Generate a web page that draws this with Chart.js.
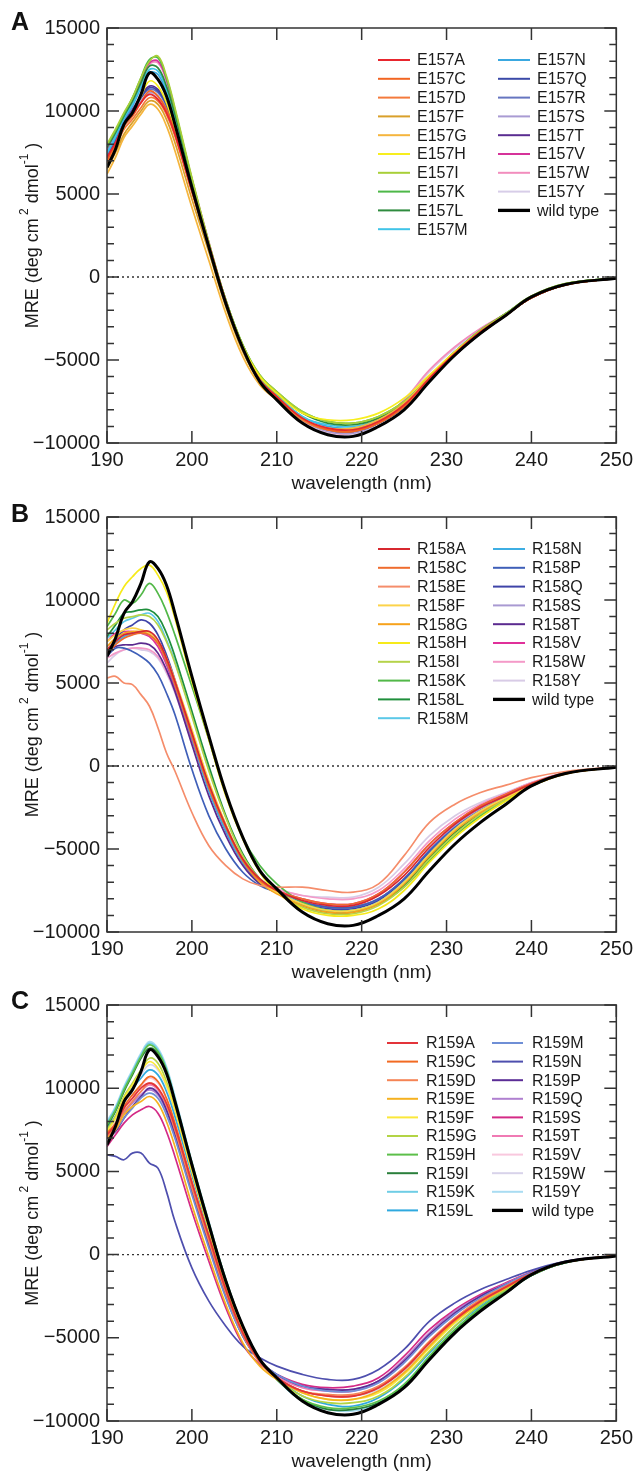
<!DOCTYPE html>
<html>
<head>
<meta charset="utf-8">
<script src="https://cdn.jsdelivr.net/npm/chart.js@4.4.1/dist/chart.umd.min.js"></script>
<style>
    body { margin: 0; background: #fff; }
    canvas { position: absolute; left: 0; }
</style>
</head>
<body>
<canvas id="chartA" width="638" height="492" style="top:0px"></canvas>
<canvas id="chartB" width="638" height="492" style="top:492px"></canvas>
<canvas id="chartC" width="638" height="492" style="top:984px"></canvas>
<script>
// --- Data (MRE, deg cm2 dmol-1) ---
const wavelengths = [190,191,192,193,194,195,196,197,198,200,202,204,206,208,210,213,216,219,222,225,228,231,234,237,240,244,250];
const xTicks = [190, 200, 210, 220, 230, 240, 250];
const yTicks = [-10000, -5000, 0, 5000, 10000, 15000];

const wildType = [6600,7700,9200,9900,11000,12300,11900,10900,9200,5400,1800,-1600,-4300,-6300,-7400,-8800,-9500,-9600,-9000,-8000,-6300,-4700,-3400,-2300,-1200,-450,-80];

// Panel A: E157 mutants
const e157Labels = ['E157A','E157C','E157D','E157F','E157G','E157H','E157I','E157K','E157L','E157M','E157N','E157Q','E157R','E157S','E157T','E157V','E157W','E157Y'];
const e157Colors = ['#e8262e','#f26522','#f47a3c','#d9a02a','#f5b53d','#f7ee1e','#a8cf38','#4db848','#2e8b3e','#40c4e8','#3aa8e0','#3b4aa8','#6675c0','#a99bd3','#5a2d91','#d6339a','#f28dbd','#d7cde8'];
const e157Series = [
    [7200,8100,9200,9800,10500,11000,10700,9900,8600,5200,1900,-1500,-4300,-6200,-7200,-8500,-9100,-9200,-8700,-7700,-6100,-4600,-3300,-2300,-1250,-480,-70],
    [7000,8000,9100,9700,10500,11200,10900,10100,8700,5200,1900,-1500,-4300,-6200,-7200,-8500,-9200,-9300,-8800,-7800,-6100,-4600,-3400,-2300,-1250,-480,-70],
    [6900,7800,8900,9500,10200,10800,10600,9800,8500,5100,1800,-1600,-4300,-6200,-7200,-8600,-9200,-9300,-8800,-7800,-6200,-4700,-3400,-2300,-1250,-480,-70],
    [6500,7500,8600,9300,10000,10600,10400,9500,8100,4700,1500,-1800,-4500,-6300,-7300,-8600,-9200,-9200,-8700,-7700,-6100,-4600,-3300,-2300,-1250,-480,-70],
    [6200,7200,8400,9100,9800,10400,10100,9100,7600,4200,1000,-2200,-4800,-6500,-7400,-8600,-9100,-9100,-8600,-7600,-6000,-4600,-3300,-2300,-1250,-480,-70],
    [6800,7900,9200,9900,10900,11800,11500,10500,8900,5300,1800,-1500,-4200,-6000,-7000,-8200,-8600,-8600,-8200,-7300,-5900,-4500,-3300,-2300,-1250,-480,-70],
    [8000,8900,9900,10800,12000,13000,13300,12100,10200,6000,2100,-1400,-4100,-5900,-6900,-8100,-8700,-8800,-8400,-7500,-6000,-4500,-3200,-2200,-1150,-400,-50],
    [7900,8800,9800,10800,12000,13100,13200,12000,10100,5900,2000,-1400,-4100,-5900,-6900,-8100,-8700,-8800,-8400,-7500,-6000,-4500,-3200,-2200,-1150,-400,-50],
    [7800,8700,9700,10600,11700,12700,12600,11500,9800,5800,2000,-1400,-4100,-6000,-7000,-8200,-8800,-8900,-8500,-7600,-6000,-4600,-3300,-2200,-1200,-420,-60],
    [7500,8500,9600,10400,11500,12500,12400,11300,9600,5700,2000,-1500,-4200,-6100,-7100,-8400,-8900,-9000,-8600,-7600,-6000,-4500,-3300,-2200,-1200,-450,-60],
    [7400,8400,9500,10300,11400,12300,12200,11100,9500,5600,1900,-1500,-4200,-6100,-7100,-8400,-9000,-9100,-8700,-7700,-6100,-4600,-3300,-2300,-1200,-450,-60],
    [7200,8200,9300,10000,10800,11400,11200,10400,8900,5400,1900,-1500,-4300,-6200,-7200,-8500,-9200,-9300,-8800,-7800,-6200,-4700,-3400,-2300,-1250,-470,-70],
    [7300,8200,9300,10000,10800,11300,11100,10300,8900,5400,1900,-1500,-4300,-6200,-7200,-8500,-9200,-9300,-8800,-7700,-6100,-4600,-3300,-2300,-1250,-470,-70],
    [7100,8000,9100,9800,10600,11100,10900,10100,8700,5300,1900,-1500,-4300,-6200,-7200,-8600,-9300,-9400,-8800,-7700,-6000,-4500,-3300,-2300,-1250,-470,-70],
    [7200,8200,9300,10100,10900,11500,11300,10500,9000,5400,1900,-1500,-4300,-6200,-7200,-8500,-9200,-9300,-8800,-7800,-6200,-4700,-3400,-2300,-1250,-470,-70],
    [7600,8600,9700,10600,11900,12900,13000,11900,10000,5900,2100,-1400,-4200,-6100,-7100,-8500,-9200,-9300,-8800,-7700,-6000,-4500,-3200,-2200,-1200,-450,-60],
    [7000,8000,9300,10300,11700,12800,12900,11800,9900,5800,2000,-1500,-4300,-6200,-7200,-8600,-9300,-9400,-8700,-7400,-5600,-4200,-3100,-2200,-1200,-450,-60],
    [6900,7900,9000,9700,10500,11000,10800,10000,8600,5200,1800,-1600,-4400,-6300,-7300,-8700,-9400,-9500,-8800,-7500,-5700,-4300,-3200,-2200,-1200,-450,-60]
];

// Panel B: R158 mutants
const r158Labels = ['R158A','R158C','R158E','R158F','R158G','R158H','R158I','R158K','R158L','R158M','R158N','R158P','R158Q','R158S','R158T','R158V','R158W','R158Y'];
const r158Colors = ['#d7282f','#ef6c2e','#f58d6b','#fcd34a','#f7a21b','#f6ea1a','#b5d34a','#52b848','#1f8f3c','#5bc8e8','#3eaee3','#3f5fb8','#3f44a8','#a99ad2','#5b2a8f','#e0309a','#f49ac8','#d8cbe6'];
const r158Series = [
    [7000,7500,7900,8000,8100,8100,7600,6500,5100,2000,-1100,-3600,-5600,-6800,-7500,-8100,-8400,-8400,-7800,-6600,-4900,-3500,-2500,-1800,-1100,-450,-60],
    [6800,7300,7700,7900,8000,7900,7400,6300,4900,1800,-1300,-3700,-5700,-6900,-7500,-8000,-8300,-8300,-7700,-6400,-4700,-3400,-2400,-1700,-1050,-430,-60],
    [5300,5400,5000,4900,4300,3600,2300,800,-300,-2800,-4800,-6000,-6800,-7200,-7300,-7300,-7500,-7600,-7100,-5400,-3400,-2300,-1600,-1150,-700,-330,-60],
    [7500,7900,8200,8300,8200,8000,7500,6500,5200,2200,-900,-3500,-5600,-6900,-7600,-8300,-8700,-8700,-8200,-7000,-5300,-3800,-2700,-1900,-1150,-450,-60],
    [7200,7700,8000,8100,8100,7900,7400,6400,5100,2100,-1000,-3600,-5700,-7000,-7700,-8400,-8800,-8800,-8300,-7100,-5400,-3900,-2800,-1900,-1200,-470,-60],
    [8600,9800,10800,11400,11900,12100,11500,10500,8900,5100,1600,-1800,-4400,-6400,-7600,-8600,-9000,-9000,-8600,-7500,-5800,-4300,-3100,-2100,-1200,-470,-60],
    [8200,8600,8900,9000,9100,9000,8500,7500,6200,3000,-300,-3100,-5400,-6800,-7600,-8500,-8900,-8900,-8400,-7300,-5600,-4100,-2900,-2000,-1200,-460,-60],
    [8400,9200,10000,9800,10300,11000,10400,9300,7900,4800,1600,-1700,-4300,-6000,-7100,-8200,-8700,-8700,-8300,-7300,-5700,-4200,-3000,-2100,-1200,-460,-60],
    [7800,8500,9200,9300,9400,9400,9000,8000,6600,3300,0,-3000,-5300,-6800,-7500,-8400,-8800,-8800,-8300,-7200,-5500,-4000,-2900,-2000,-1200,-460,-60],
    [7700,8200,8700,8900,9100,9200,8700,7600,6300,3100,-200,-3100,-5400,-6800,-7500,-8300,-8700,-8700,-8200,-7000,-5300,-3900,-2800,-1900,-1150,-450,-60],
    [7000,7400,7800,8000,8100,8000,7500,6300,4900,1700,-1500,-3900,-5800,-6900,-7500,-8300,-8700,-8700,-8200,-7000,-5300,-3800,-2700,-1900,-1150,-450,-60],
    [6600,7100,7100,6900,6600,6200,5500,4400,3100,-200,-3000,-5000,-6400,-7200,-7600,-8200,-8500,-8500,-8000,-6800,-5100,-3700,-2700,-1900,-1150,-450,-60],
    [6700,7600,8200,8500,8800,8600,7900,6700,5200,1800,-1400,-3900,-5800,-7000,-7600,-8300,-8600,-8600,-8100,-6900,-5200,-3800,-2700,-1900,-1150,-450,-60],
    [7200,7600,7900,8000,8000,7900,7400,6400,5100,2000,-1100,-3700,-5700,-6900,-7500,-8200,-8500,-8500,-8000,-6800,-5100,-3600,-2600,-1800,-1100,-440,-60],
    [6900,7200,7300,7300,7400,7300,6800,5800,4500,1300,-1800,-4200,-6000,-7100,-7600,-8200,-8500,-8500,-8000,-6800,-5100,-3600,-2600,-1800,-1100,-440,-60],
    [7500,8000,8100,8100,8000,7800,7200,6100,4700,1600,-1400,-3900,-5800,-7000,-7500,-8000,-8300,-8300,-7700,-6400,-4700,-3400,-2400,-1700,-1050,-420,-60],
    [6500,6800,7000,7100,7100,7000,6600,5700,4500,1500,-1500,-3900,-5800,-6900,-7400,-7800,-8000,-8000,-7500,-6200,-4500,-3200,-2300,-1650,-1000,-420,-60],
    [6200,6700,7000,7100,7000,6900,6500,5600,4400,1400,-1600,-4000,-5900,-7000,-7400,-7800,-7900,-7900,-7300,-5900,-4200,-3000,-2200,-1600,-1000,-400,-60]
];

// Panel C: R159 mutants
const r159Labels = ['R159A','R159C','R159D','R159E','R159F','R159G','R159H','R159I','R159K','R159L','R159M','R159N','R159P','R159Q','R159S','R159T','R159V','R159W','R159Y'];
const r159Colors = ['#e3343a','#f26a22','#f58455','#f5b120','#fbe83a','#b3d445','#5cbf4a','#2a7f3b','#6fcde5','#2fa9df','#6f8fd6','#4e4fae','#5b2d96','#b080d0','#d42a86','#f07ab4','#f9c8de','#d8d3ea','#a9dcf2'];
const r159Series = [
    [7200,7800,8800,9400,10000,10300,10000,9100,7700,4300,1100,-2100,-4700,-6400,-7400,-8200,-8500,-8500,-8000,-6900,-5300,-3900,-2800,-1950,-1150,-460,-60],
    [7300,7900,8900,9600,10200,10700,10400,9400,7900,4400,1100,-2100,-4700,-6400,-7400,-8200,-8500,-8500,-8000,-6900,-5300,-3900,-2800,-1950,-1150,-460,-60],
    [7100,7700,8600,9200,9800,10300,10000,9000,7500,4000,800,-2300,-4800,-6500,-7400,-8200,-8400,-8400,-7900,-6800,-5200,-3800,-2700,-1900,-1150,-460,-60],
    [7000,7500,8400,8900,9200,9500,9100,8000,6500,3000,-100,-3000,-5300,-6700,-7500,-8300,-8700,-8700,-8200,-7100,-5500,-4000,-2900,-2000,-1200,-460,-60],
    [7400,8200,9400,10200,11000,11600,11200,10200,8700,5000,1500,-1900,-4600,-6400,-7400,-8300,-8700,-8700,-8300,-7200,-5600,-4100,-2900,-2000,-1200,-460,-60],
    [7500,8300,9500,10300,11100,11800,11500,10400,8800,5100,1600,-1800,-4500,-6400,-7500,-8500,-8900,-8900,-8500,-7400,-5800,-4300,-3000,-2100,-1200,-460,-60],
    [7800,8700,9900,10900,11900,12600,12200,11100,9300,5500,1900,-1500,-4300,-6300,-7500,-8700,-9200,-9200,-8800,-7800,-6100,-4500,-3200,-2200,-1250,-480,-60],
    [7700,8600,9800,10800,11800,12400,12100,11000,9200,5400,1800,-1600,-4400,-6300,-7500,-8700,-9300,-9300,-8900,-7900,-6200,-4600,-3300,-2300,-1250,-480,-60],
    [7900,8800,10000,11000,12000,12700,12300,11200,9400,5500,1900,-1500,-4300,-6300,-7500,-8800,-9300,-9300,-8900,-7800,-6100,-4500,-3200,-2200,-1250,-480,-60],
    [7600,8300,9300,10000,10600,11100,10800,9800,8300,4800,1400,-1900,-4500,-6300,-7400,-8500,-9000,-9100,-8600,-7500,-5900,-4300,-3100,-2100,-1200,-470,-60],
    [7200,7500,8200,8800,9400,9700,9400,8400,7000,3600,400,-2600,-4900,-6400,-7200,-7900,-8200,-8200,-7700,-6500,-4900,-3600,-2600,-1800,-1100,-440,-60],
    [6000,5900,5700,6100,6100,5500,5200,3800,2000,-800,-2800,-4300,-5500,-6200,-6700,-7200,-7500,-7500,-6900,-5700,-4000,-2900,-2100,-1500,-950,-400,-60],
    [7000,7400,8200,8900,9500,10000,9700,8700,7200,3800,600,-2500,-4900,-6400,-7200,-7900,-8100,-8100,-7600,-6400,-4800,-3500,-2500,-1800,-1100,-440,-60],
    [7300,7700,8500,9100,9600,9900,9600,8600,7100,3700,500,-2500,-4900,-6400,-7200,-7900,-8100,-8100,-7600,-6300,-4700,-3400,-2500,-1750,-1080,-430,-60],
    [6500,7200,7900,8400,8700,8900,8500,7400,5900,2600,-400,-3200,-5400,-6600,-7200,-7800,-8000,-7900,-7400,-6100,-4500,-3300,-2400,-1700,-1050,-420,-60],
    [7100,7600,8500,9200,9800,10200,9900,8900,7400,4000,800,-2300,-4800,-6400,-7300,-8000,-8200,-8200,-7600,-6300,-4700,-3400,-2500,-1750,-1080,-430,-60],
    [7200,7800,8700,9400,10100,10600,10300,9300,7800,4300,1000,-2100,-4700,-6400,-7300,-8000,-8200,-8200,-7700,-6500,-4900,-3600,-2600,-1800,-1100,-440,-60],
    [7400,8100,9200,10000,10800,11400,11100,10100,8500,4900,1500,-1800,-4500,-6300,-7300,-8200,-8500,-8500,-8100,-7000,-5400,-4000,-2800,-2000,-1200,-460,-60],
    [8000,8900,10100,11100,12100,12800,12400,11300,9500,5600,2000,-1500,-4300,-6300,-7500,-8800,-9300,-9400,-9000,-7900,-6200,-4600,-3300,-2300,-1250,-480,-60]
];

Chart.defaults.font.family = "'Liberation Sans', Arial, Helvetica, sans-serif";
Chart.defaults.color = '#1a1a1a';

// --- Frame, inward ticks, zero line, titles and the two-column legend ---
const panelDecor = {
    id: 'panelDecor',
    beforeDatasetsDraw(chart) {
        const { ctx, chartArea: a, scales } = chart;
        const y0 = scales.y.getPixelForValue(0);
        ctx.save();
        ctx.strokeStyle = '#333';
        ctx.lineWidth = 1.3;
        ctx.setLineDash([2, 3]);
        ctx.beginPath();
        ctx.moveTo(a.left, y0);
        ctx.lineTo(a.right, y0);
        ctx.stroke();
        ctx.restore();
    },
    afterDatasetsDraw(chart) {
        const { ctx, chartArea: a, scales } = chart;
        ctx.save();
        ctx.strokeStyle = '#333';
        ctx.lineWidth = 1.5;
        ctx.strokeRect(a.left, a.top, a.right - a.left, a.bottom - a.top);
        ctx.beginPath();
        xTicks.forEach(v => {
            const px = scales.x.getPixelForValue(v);
            ctx.moveTo(px, a.bottom); ctx.lineTo(px, a.bottom - 12);
            ctx.moveTo(px, a.top); ctx.lineTo(px, a.top + 12);
        });
        for (let v = -10000; v <= 15000; v += 1000) {
            const py = scales.y.getPixelForValue(v);
            const len = v % 5000 === 0 ? 12 : 7;
            ctx.moveTo(a.left, py); ctx.lineTo(a.left + len, py);
            ctx.moveTo(a.right, py); ctx.lineTo(a.right - len, py);
        }
        ctx.stroke();
        ctx.restore();
    },
    afterDraw(chart, args, opts) {
        const { ctx, chartArea: a } = chart;
        ctx.save();

        // panel letter
        ctx.fillStyle = '#111';
        ctx.font = "bold 25px 'Liberation Sans', Arial, sans-serif";
        ctx.textAlign = 'center';
        ctx.textBaseline = 'middle';
        ctx.fillText(opts.letter, 20, opts.letterY);

        // x title
        ctx.fillStyle = '#1a1a1a';
        ctx.font = "19px 'Liberation Sans', Arial, sans-serif";
        ctx.fillText('wavelength (nm)', (a.left + a.right) / 2, a.bottom + 41);

        // y title with superscripts
        const parts = [['MRE (deg cm', 18, 0], [' 2', 12, -8], [' dmol', 18, 0], ['-1', 12, -8], [' )', 18, 0]];
        let total = 0;
        parts.forEach(p => {
            ctx.font = p[1] + "px 'Liberation Sans', Arial, sans-serif";
            total += ctx.measureText(p[0]).width;
        });
        ctx.translate(33, (a.top + a.bottom) / 2);
        ctx.rotate(-Math.PI / 2);
        ctx.textAlign = 'left';
        let cx = -total / 2;
        parts.forEach(p => {
            ctx.font = p[1] + "px 'Liberation Sans', Arial, sans-serif";
            ctx.fillText(p[0], cx, p[2]);
            cx += ctx.measureText(p[0]).width;
        });
        ctx.setTransform(1, 0, 0, 1, 0, 0);

        // legend
        ctx.font = "16px 'Liberation Sans', Arial, sans-serif";
        ctx.textAlign = 'left';
        ctx.textBaseline = 'middle';
        chart.data.datasets.forEach((ds, i) => {
            const col = i < opts.split ? 0 : 1;
            const row = col ? i - opts.split : i;
            const [x1, x2, tx] = opts.cols[col];
            const yy = opts.legendY + row * opts.rowH;
            ctx.strokeStyle = ds.borderColor;
            ctx.lineWidth = ds.borderWidth + 0.3;
            ctx.beginPath();
            ctx.moveTo(x1, yy);
            ctx.lineTo(x2, yy);
            ctx.stroke();
            ctx.fillStyle = '#1a1a1a';
            ctx.fillText(ds.label, tx, yy + 1);
        });
        ctx.restore();
    }
};

function buildDatasets(labels, colors, series) {
    const toPoints = vals => wavelengths.map((w, i) => ({ x: w, y: vals[i] }));
    const sets = labels.map((lab, k) => ({
        label: lab,
        data: toPoints(series[k]),
        borderColor: colors[k],
        borderWidth: 1.7,
        pointRadius: 0,
        tension: 0.4,
        order: 1
    }));
    sets.push({
        label: 'wild type',
        data: toPoints(wildType),
        borderColor: '#000',
        borderWidth: 3,
        pointRadius: 0,
        tension: 0.4,
        order: 0
    });
    return sets;
}

function renderPanel(canvasId, labels, colors, series, top, bottom, decor) {
    const canvas = document.getElementById(canvasId);
    const H = canvas.height;
    return new Chart(canvas.getContext('2d'), {
        type: 'line',
        data: { datasets: buildDatasets(labels, colors, series) },
        plugins: [panelDecor],
        options: {
            responsive: false,
            animation: false,
            devicePixelRatio: 1,
            layout: { padding: { top: top, right: 19, bottom: 0, left: 0 } },
            plugins: {
                legend: { display: false },
                tooltip: { enabled: false },
                panelDecor: decor
            },
            scales: {
                x: {
                    type: 'linear',
                    min: 190,
                    max: 250,
                    grid: { display: false, drawTicks: false },
                    border: { display: false },
                    afterBuildTicks: s => { s.ticks = xTicks.map(v => ({ value: v })); },
                    afterFit: s => { s.height = H - bottom; },
                    ticks: { font: { size: 20 }, padding: 5, maxRotation: 0 }
                },
                y: {
                    min: -10000,
                    max: 15000,
                    grid: { display: false, drawTicks: false },
                    border: { display: false },
                    afterBuildTicks: s => { s.ticks = yTicks.map(v => ({ value: v })); },
                    afterFit: s => { s.width = 107; },
                    ticks: {
                        font: { size: 20 },
                        padding: 7,
                        autoSkip: false,
                        callback: v => v < 0 ? '\u2212' + Math.abs(v) : String(v)
                    }
                }
            }
        }
    });
}

renderPanel('chartA', e157Labels, e157Colors, e157Series, 28, 443, {
    letter: 'A', letterY: 23, split: 10, legendY: 60, rowH: 18.8,
    cols: [[378, 410, 417], [498, 530, 537]]
});
renderPanel('chartB', r158Labels, r158Colors, r158Series, 25, 440, {
    letter: 'B', letterY: 23, split: 10, legendY: 57, rowH: 18.8,
    cols: [[378, 410, 417], [493, 525, 532]]
});
renderPanel('chartC', r159Labels, r159Colors, r159Series, 21, 437, {
    letter: 'C', letterY: 18, split: 10, legendY: 59, rowH: 18.6,
    cols: [[387, 418, 426], [492, 523, 532]]
});
</script>
</body>
</html>
